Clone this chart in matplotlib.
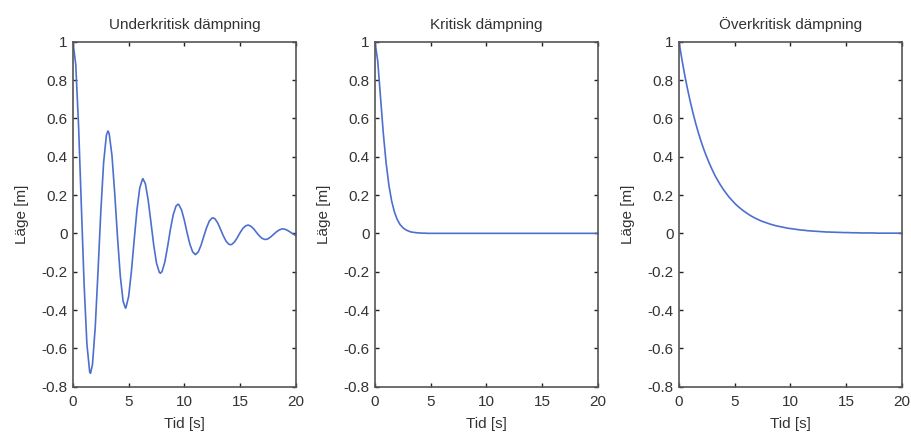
import numpy as np
import matplotlib
matplotlib.use('Agg')
import matplotlib.pyplot as plt

plt.rcParams['font.family'] = ['Liberation Sans', 'DejaVu Sans']
plt.rcParams['axes.unicode_minus'] = False

# sample times, 0 to 20 s in steps of 0.25 s
tid = np.arange(81) * 0.25

# position [m] for each damping case
lage_under = [
    1.000, 0.880, 0.565, 0.147, -0.266, -0.577, -0.723, -0.685, -0.489, -0.197,
    0.114, 0.368, 0.512, 0.521, 0.407, 0.208, -0.021, -0.223, -0.354, -0.389,
    -0.329, -0.197, -0.032, 0.125, 0.238, 0.284, 0.259, 0.175, 0.058, -0.061,
    -0.155, -0.203, -0.199, -0.149, -0.068, 0.021, 0.097, 0.142, 0.150, 0.122,
    0.068, 0.002, -0.057, -0.097, -0.111, -0.097, -0.062, -0.015, 0.030, 0.065,
    0.080, 0.076, 0.054, 0.021, -0.013, -0.041, -0.057, -0.058, -0.045, -0.023,
    0.003, 0.025, 0.039, 0.043, 0.036, 0.022, 0.003, -0.014, -0.027, -0.032,
    -0.029, -0.019, -0.006, 0.007, 0.017, 0.023, 0.022, 0.016, 0.007, -0.003,
    -0.011,
]
# turning points of the underdamped swing
topp_tid = [1.571, 3.142, 4.712, 6.283, 7.854, 9.425, 10.996, 12.566,
            14.137, 15.708, 17.279, 18.850]
topp_lage = [-0.730, 0.534, -0.390, 0.285, -0.208, 0.152, -0.111, 0.081,
             -0.059, 0.043, -0.032, 0.023]

lage_kritisk = [
    1.000, 0.898, 0.708, 0.521, 0.367, 0.251, 0.168, 0.111, 0.072, 0.046,
    0.030, 0.019, 0.012, 0.007, 0.005, 0.003, 0.002, 0.001, 0.001, 0.000,
] + [0.0] * 61
lage_over = [
    1.000, 0.912, 0.831, 0.758, 0.691, 0.630, 0.574, 0.523, 0.477, 0.435,
    0.397, 0.362, 0.330, 0.300, 0.274, 0.250, 0.228, 0.208, 0.189, 0.173,
    0.157, 0.143, 0.131, 0.119, 0.109, 0.099, 0.090, 0.082, 0.075, 0.068,
    0.062, 0.057, 0.052, 0.047, 0.043, 0.039, 0.036, 0.033, 0.030, 0.027,
    0.025, 0.023, 0.021, 0.019, 0.017, 0.016, 0.014, 0.013, 0.012, 0.011,
    0.010, 0.009, 0.008, 0.007, 0.007, 0.006, 0.006, 0.005, 0.005, 0.004,
    0.004, 0.004, 0.003, 0.003, 0.003, 0.002, 0.002, 0.002, 0.002, 0.002,
    0.002, 0.001, 0.001, 0.001, 0.001, 0.001, 0.001, 0.001, 0.001, 0.001,
    0.001,
]

# merge grid samples and turning points for the underdamped curve
t_u = np.concatenate([tid, topp_tid])
y_u = np.concatenate([lage_under, topp_lage])
order = np.argsort(t_u)
t_u, y_u = t_u[order], y_u[order]

titlar = ['Underkritisk dämpning', 'Kritisk dämpning', 'Överkritisk dämpning']
kurvor = [(t_u, y_u), (tid, lage_kritisk), (tid, lage_over)]

xticks = [0, 5, 10, 15, 20]
yticks = [-0.8, -0.6, -0.4, -0.2, 0, 0.2, 0.4, 0.6, 0.8, 1]
ytick_labels = ['-0.8', '-0.6', '-0.4', '-0.2', '0', '0.2', '0.4', '0.6', '0.8', '1']

fig = plt.figure(figsize=(9.11, 4.34), dpi=100)
lefts = [0.0801, 0.4116, 0.7453]
text_col = '#333333'
box_col = '#555555'
line_col = '#4d6fcf'

for left, titel, (t, lage) in zip(lefts, titlar, kurvor):
    ax = fig.add_axes([left, 0.109, 0.2445, 0.795])
    ax.plot(t, lage, color=line_col, linewidth=1.2)
    ax.set_xlim(0, 20)
    ax.set_ylim(-0.8, 1)
    ax.set_xticks(xticks)
    ax.set_xticklabels([str(v) for v in xticks])
    ax.set_yticks(yticks)
    ax.set_yticklabels(ytick_labels)
    ax.tick_params(direction='in', top=True, right=True, length=3, width=1,
                   color='#222222', labelsize=11, labelcolor=text_col, pad=4)
    ax.tick_params(axis='x', pad=6)
    for sp in ax.spines.values():
        sp.set_color(box_col)
        sp.set_linewidth(1.2)
    ax.set_title(titel, fontsize=11, color=text_col, pad=9)
    ax.set_xlabel('Tid [s]', fontsize=11, color=text_col, labelpad=6)
    ax.set_ylabel('Läge [m]', fontsize=11, color=text_col, labelpad=9)

plt.savefig('out.png', dpi=100)
plt.close()
